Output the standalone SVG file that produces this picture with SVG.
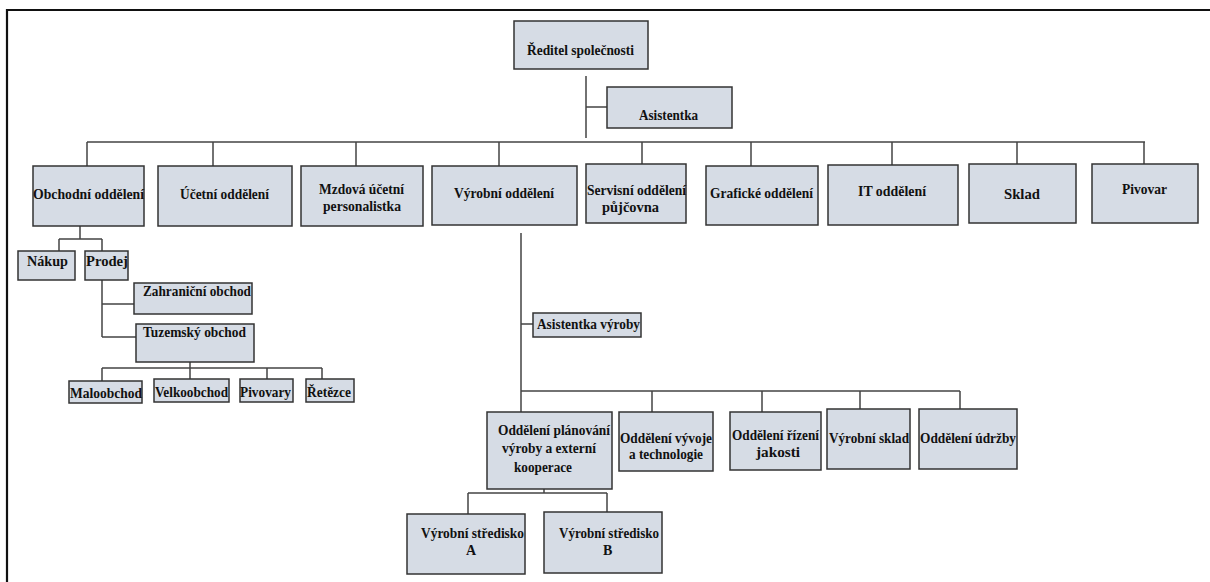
<svg xmlns="http://www.w3.org/2000/svg" width="1210" height="582" viewBox="0 0 1210 582">
<style>
.box{fill:#d6dce5;stroke:#333;stroke-width:1.5}
.ln{stroke:#444;stroke-width:1.5;fill:none}
.frame{stroke:#111;stroke-width:2.2;fill:none}
text{font-family:"Liberation Serif","Times New Roman",Times,serif;font-weight:bold;font-size:14px;fill:#111}
</style>
<rect width="1210" height="582" fill="#fff"/>
<g id="frame"><path class="frame" d="M7,582 V10 H1210"/></g>
<g id="connectors">
<path class="ln" d="M586,76 V138 M586,107 H607"/>
<path class="ln" d="M87,142 H1145 M87,142 V166 M213,142 V166 M356,142 V166 M499,142 V166 M642,142 V164 M751,142 V166 M892,142 V165 M1017,142 V164 M1144,142 V164"/>
<path class="ln" d="M80,226 V239 M59,239 H102 M59,239 V251 M102,239 V251"/>
<path class="ln" d="M102,280 V337 M102,304 H134 M102,337 H137"/>
<path class="ln" d="M190,362 V368 M102,368 H322 M102,368 V381 M190,368 V379 M267,368 V379 M322,368 V379"/>
<path class="ln" d="M521,233 V412 M521,324 H533 M521,391 H960 M652,391 V412 M762,391 V412 M860,391 V409 M960,391 V409"/>
<path class="ln" d="M544,489 V493 M468,493 H607 M468,493 V514 M607,493 V512"/>
</g>
<g id="n-reditel"><rect class="box" x="514" y="21" width="134" height="48"/><text x="527" y="55" style="font-size:15px" textLength="107" lengthAdjust="spacingAndGlyphs">Ředitel společnosti</text></g>
<g id="n-asistentka"><rect class="box" x="607" y="87" width="125" height="41"/><text x="639" y="120" textLength="59" lengthAdjust="spacingAndGlyphs">Asistentka</text></g>
<g id="n-obchodni"><rect class="box" x="33" y="166" width="111" height="60"/><text x="33" y="199" textLength="111" lengthAdjust="spacingAndGlyphs">Obchodní oddělení</text></g>
<g id="n-ucetni"><rect class="box" x="158" y="166" width="134" height="60"/><text x="180" y="199" textLength="89" lengthAdjust="spacingAndGlyphs">Účetní oddělení</text></g>
<g id="n-mzdova"><rect class="box" x="301" y="166" width="122" height="60"/><text x="319" y="194" textLength="85" lengthAdjust="spacingAndGlyphs">Mzdová účetní</text><text x="323" y="211" textLength="78" lengthAdjust="spacingAndGlyphs">personalistka</text></g>
<g id="n-vyrobni"><rect class="box" x="432" y="166" width="145" height="59"/><text x="454" y="198" textLength="100" lengthAdjust="spacingAndGlyphs">Výrobní oddělení</text></g>
<g id="n-servisni"><rect class="box" x="586" y="164" width="100" height="59"/><text x="587" y="195" textLength="99" lengthAdjust="spacingAndGlyphs">Servisní oddělení</text><text x="602" y="212" textLength="57" lengthAdjust="spacingAndGlyphs">půjčovna</text></g>
<g id="n-graficke"><rect class="box" x="706" y="166" width="112" height="59"/><text x="710" y="198" textLength="103" lengthAdjust="spacingAndGlyphs">Grafické oddělení</text></g>
<g id="n-it"><rect class="box" x="828" y="165" width="130" height="60"/><text x="858" y="196" textLength="68" lengthAdjust="spacingAndGlyphs">IT oddělení</text></g>
<g id="n-sklad"><rect class="box" x="969" y="164" width="107" height="59"/><text x="1004" y="199" textLength="36" lengthAdjust="spacingAndGlyphs">Sklad</text></g>
<g id="n-pivovar"><rect class="box" x="1092" y="164" width="106" height="59"/><text x="1122" y="194" textLength="45" lengthAdjust="spacingAndGlyphs">Pivovar</text></g>
<g id="n-nakup"><rect class="box" x="18" y="251" width="57" height="29"/><text x="27" y="266" textLength="41" lengthAdjust="spacingAndGlyphs">Nákup</text></g>
<g id="n-prodej"><rect class="box" x="85" y="251" width="43" height="29"/><text x="86" y="266" textLength="42" lengthAdjust="spacingAndGlyphs">Prodej</text></g>
<g id="n-zahranicni"><rect class="box" x="134" y="283" width="118" height="31"/><text x="143" y="296" textLength="108" lengthAdjust="spacingAndGlyphs">Zahraniční obchod</text></g>
<g id="n-tuzemsky"><rect class="box" x="136" y="324" width="118" height="38"/><text x="143" y="337" textLength="103" lengthAdjust="spacingAndGlyphs">Tuzemský obchod</text></g>
<g id="n-maloobchod"><rect class="box" x="69" y="381" width="73" height="22"/><text x="70" y="398" textLength="72" lengthAdjust="spacingAndGlyphs">Maloobchod</text></g>
<g id="n-velkoobchod"><rect class="box" x="154" y="379" width="75" height="23"/><text x="155" y="397" textLength="73" lengthAdjust="spacingAndGlyphs">Velkoobchod</text></g>
<g id="n-pivovary"><rect class="box" x="240" y="379" width="53" height="23"/><text x="240" y="397" textLength="51" lengthAdjust="spacingAndGlyphs">Pivovary</text></g>
<g id="n-retezce"><rect class="box" x="306" y="379" width="48" height="23"/><text x="307" y="397" textLength="44" lengthAdjust="spacingAndGlyphs">Řetězce</text></g>
<g id="n-asistentka-vyroby"><rect class="box" x="533" y="313" width="108" height="24"/><text x="537" y="329" textLength="103" lengthAdjust="spacingAndGlyphs">Asistentka výroby</text></g>
<g id="n-planovani"><rect class="box" x="487" y="412" width="125" height="77"/><text x="498" y="435" textLength="112" lengthAdjust="spacingAndGlyphs">Oddělení plánování</text><text x="502" y="453" textLength="94" lengthAdjust="spacingAndGlyphs">výroby a externí</text><text x="514" y="472" textLength="58" lengthAdjust="spacingAndGlyphs">kooperace</text></g>
<g id="n-vyvoje"><rect class="box" x="619" y="412" width="94" height="59"/><text x="620" y="443" textLength="92" lengthAdjust="spacingAndGlyphs">Oddělení vývoje</text><text x="629" y="459" textLength="74" lengthAdjust="spacingAndGlyphs">a technologie</text></g>
<g id="n-jakosti"><rect class="box" x="730" y="412" width="91" height="58"/><text x="732" y="440" textLength="87" lengthAdjust="spacingAndGlyphs">Oddělení řízení</text><text x="756" y="457" textLength="44" lengthAdjust="spacingAndGlyphs">jakosti</text></g>
<g id="n-vyrobni-sklad"><rect class="box" x="827" y="409" width="83" height="60"/><text x="829" y="443" textLength="80" lengthAdjust="spacingAndGlyphs">Výrobní sklad</text></g>
<g id="n-udrzby"><rect class="box" x="919" y="409" width="98" height="60"/><text x="920" y="443" textLength="96" lengthAdjust="spacingAndGlyphs">Oddělení údržby</text></g>
<g id="n-stredisko-a"><rect class="box" x="407" y="514" width="118" height="60"/><text x="421" y="538" textLength="103" lengthAdjust="spacingAndGlyphs">Výrobní středisko</text><text x="466" y="555">A</text></g>
<g id="n-stredisko-b"><rect class="box" x="544" y="512" width="118" height="61"/><text x="559" y="538" textLength="100" lengthAdjust="spacingAndGlyphs">Výrobní středisko</text><text x="603" y="555">B</text></g>
</svg>
